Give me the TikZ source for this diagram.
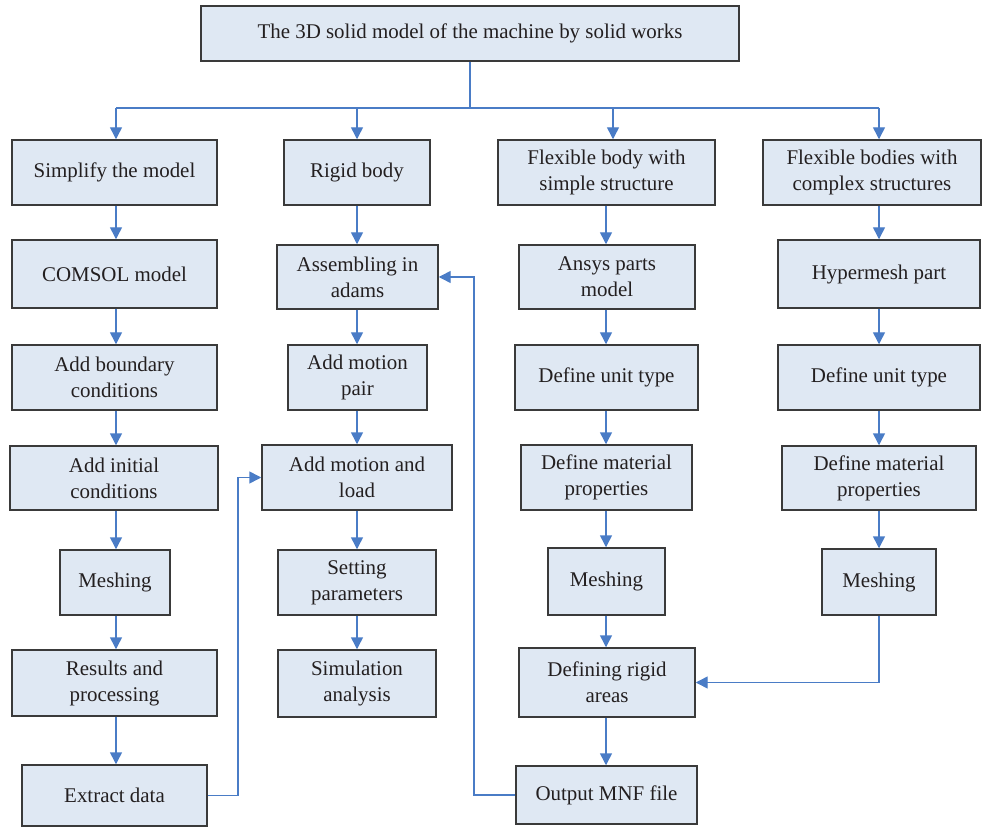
\documentclass[tikz,border=0pt]{standalone}
\usepackage{fontspec}
\setmainfont{Liberation Serif}
\usetikzlibrary{arrows.meta}
\definecolor{boxfill}{HTML}{DFE8F3}
\definecolor{boxline}{HTML}{3A3A3A}
\definecolor{arr}{HTML}{4A7CC6}
\definecolor{txt}{HTML}{231F20}
\tikzset{
  box/.style={draw=boxline, fill=boxfill, line width=1.1pt, align=center, text=txt,
    inner sep=0pt, font=\fontsize{15.7}{19.5}\selectfont},
  conn/.style={draw=arr, line width=1.1pt, -{Triangle[length=9pt,width=9pt]}},
  plain/.style={draw=arr, line width=1.1pt},
}
\newcommand{\bx}[6]{%
  \node[box, minimum width={(#4-#2)*0.75pt}, minimum height={(#5-#3)*0.75pt}]
    (#1) at ({(#2+#4)/2},{(#3+#5)/2}) {#6};}
\begin{document}
\begin{tikzpicture}[x=0.75pt,y=-0.75pt]
\useasboundingbox (0,0) rectangle (982,827);
\bx{top}{201}{6}{739}{61}{The 3D solid model of the machine by solid works}
% column 1
\bx{a1}{12}{140}{217}{205}{Simplify the model}
\bx{a2}{12}{240}{217}{308}{COMSOL model}
\bx{a3}{12}{345}{217}{410}{Add boundary\\conditions}
\bx{a4}{10}{446}{218}{510}{Add initial\\conditions}
\bx{a5}{60}{550}{170}{615}{Meshing}
\bx{a6}{12}{650}{217}{716}{Results and\\processing}
\bx{a7}{22}{765}{207}{826}{Extract data}
% column 2
\bx{b1}{284}{140}{430}{205}{Rigid body}
\bx{b2}{277}{245}{438}{309}{Assembling in\\adams}
\bx{b3}{288}{345}{427}{410}{Add motion\\pair}
\bx{b4}{262}{445}{452}{510}{Add motion and\\load}
\bx{b5}{278}{550}{436}{615}{Setting\\parameters}
\bx{b6}{278}{650}{436}{717}{Simulation\\analysis}
% column 3
\bx{c1}{498}{140}{715}{205}{Flexible body with\\simple structure}
\bx{c2}{519}{245}{695}{309}{Ansys parts\\model}
\bx{c3}{515}{345}{698}{410}{Define unit type}
\bx{c4}{521}{445}{692}{510}{Define material\\properties}
\bx{c5}{548}{548}{665}{615}{Meshing}
\bx{c6}{519}{648}{695}{717}{Defining rigid\\areas}
\bx{c7}{516}{766}{697}{824}{Output MNF file}
% column 4
\bx{d1}{763}{140}{981}{205}{Flexible bodies with\\complex structures}
\bx{d2}{778}{240}{980}{308}{Hypermesh part}
\bx{d3}{778}{345}{980}{410}{Define unit type}
\bx{d4}{782}{446}{976}{510}{Define material\\properties}
\bx{d5}{822}{549}{936}{615}{Meshing}
% column axes
\coordinate (xa) at (116,0);
\coordinate (xb) at (357,0);
\coordinate (xc) at (606,0);
\coordinate (xd) at (879,0);
% top distribution
\coordinate (hub) at (470,108);
\draw[plain] (top.south) -- (hub);
\draw[plain] (hub -| xa) -- (hub -| xd);
\draw[conn] (hub -| xa) -- (a1.north -| xa);
\draw[conn] (hub -| xb) -- (b1.north -| xb);
\draw[conn] (613,108) -- (c1.north -| 613,0);
\draw[conn] (hub -| xd) -- (d1.north -| xd);
% column chains
\foreach \u/\v/\c in {a1/a2/xa,a2/a3/xa,a3/a4/xa,a4/a5/xa,a5/a6/xa,a6/a7/xa,
                   b1/b2/xb,b2/b3/xb,b3/b4/xb,b4/b5/xb,b5/b6/xb,
                   c1/c2/xc,c2/c3/xc,c3/c4/xc,c4/c5/xc,c5/c6/xc,c6/c7/xc,
                   d1/d2/xd,d2/d3/xd,d3/d4/xd,d4/d5/xd}
  \draw[conn] (\u.south -| \c) -- (\v.north -| \c);
% cross links
\draw[conn] (a7.east) -- (238,795.5) |- (b4.west);
\draw[conn] (c7.west) -- (474,795) |- (b2.east);
\draw[conn] (d5.south -| xd) |- (c6.east);
\end{tikzpicture}
\end{document}
